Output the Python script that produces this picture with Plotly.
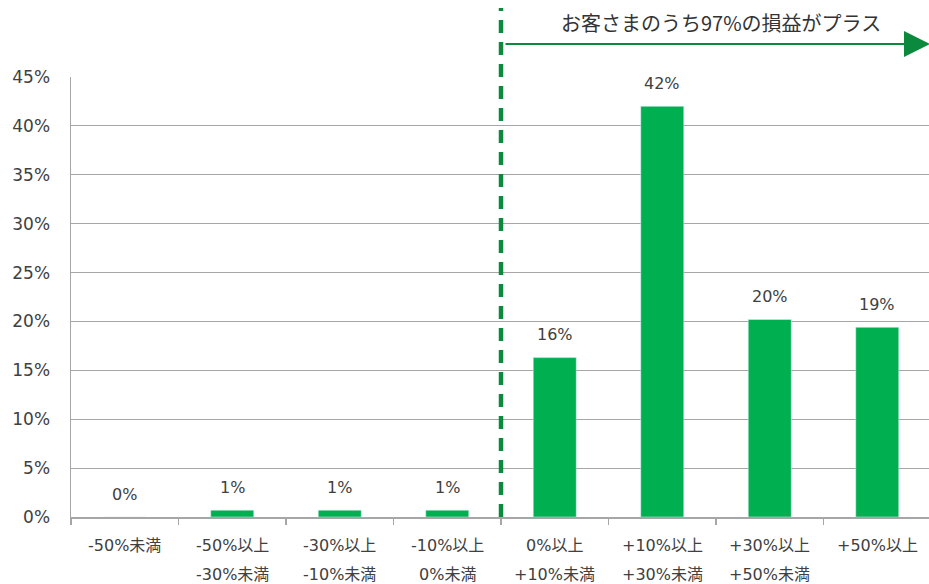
import plotly.graph_objects as go

categories_line1 = ["-50%未満", "-50%以上", "-30%以上", "-10%以上", "0%以上", "+10%以上", "+30%以上", "+50%以上"]
categories_line2 = ["", "-30%未満", "-10%未満", "0%未満", "+10%未満", "+30%未満", "+50%未満", ""]
values = [0.0, 0.7, 0.7, 0.7, 16.3, 42.0, 20.2, 19.4]
value_labels = ["0%", "1%", "1%", "1%", "16%", "42%", "20%", "19%"]
y_ticks = [0, 5, 10, 15, 20, 25, 30, 35, 40, 45]
y_ticktext = [f"{v}%" for v in y_ticks]
header_text = "お客さまのうち97%の損益がプラス"

x_idx = list(range(len(values)))

FONT = "DejaVu Sans, Verdana, Noto Sans CJK JP, sans-serif"
TXT = "#404040"
GRID = "#a6a6a6"
DGREEN = "#0b8a3d"

LEFT = 71
PLOT_W = 860

fig = go.Figure()
fig.add_trace(go.Bar(
    x=x_idx, y=values, marker_color="#00b050", width=0.4,
    hoverinfo="skip",
))

annotations = []
for i, (v, t) in enumerate(zip(values, value_labels)):
    annotations.append(dict(x=i, y=v, xref="x", yref="y", text=t, showarrow=False,
                            yanchor="middle", yshift=23,
                            font=dict(family=FONT, size=16, color=TXT)))
for i, (a, b) in enumerate(zip(categories_line1, categories_line2)):
    annotations.append(dict(x=i, y=0, xref="x", yref="paper", text=a, showarrow=False,
                            yanchor="middle", yshift=-28,
                            font=dict(family=FONT, size=16, color=TXT)))
    if b:
        annotations.append(dict(x=i, y=0, xref="x", yref="paper", text=b, showarrow=False,
                                yanchor="middle", yshift=-57,
                                font=dict(family=FONT, size=16, color=TXT)))

# arrow (tip runs slightly past the right edge, as in the reference)
arrow_y = (517 - 44) / 440
tip_x = 938 - LEFT
start_x = 504 - LEFT
annotations.append(dict(x=tip_x / PLOT_W, y=arrow_y, xref="paper", yref="paper",
                        ax=-(tip_x - start_x), ay=0, axref="pixel", ayref="pixel",
                        showarrow=True, arrowhead=2, arrowsize=2.6, arrowwidth=2,
                        arrowcolor=DGREEN, text="", standoff=0))
annotations.append(dict(x=5.55, y=arrow_y, xref="x", yref="paper", text=header_text,
                        showarrow=False, yanchor="bottom", yshift=5,
                        font=dict(family="Noto Sans CJK JP, sans-serif", size=20, color="#333333")))

fig.add_shape(type="line", x0=3.5, x1=3.5, xref="x", y0=0, y1=(517 - 8) / 440, yref="paper",
              line=dict(color=DGREEN, width=4.5, dash="13px,9px"))

fig.update_layout(
    width=LEFT + PLOT_W,
    height=584,
    margin=dict(l=LEFT, r=0, t=77, b=67, autoexpand=False),
    paper_bgcolor="white", plot_bgcolor="white",
    showlegend=False,
    annotations=annotations,
    xaxis=dict(range=[-0.5, 7.5], showticklabels=False, showgrid=False, zeroline=False,
               automargin=False,
               showline=True, linecolor=GRID, linewidth=1.5,
               tickmode="array", tickvals=[i + 0.5 for i in range(-1, 8)],
               ticks="outside", ticklen=6, tickcolor=GRID, tickwidth=1.5),
    yaxis=dict(range=[0, 45], tickvals=y_ticks, ticktext=y_ticktext, automargin=False,
               showgrid=True, gridcolor=GRID, gridwidth=1, zeroline=False,
               showline=True, linecolor=GRID, linewidth=1.5,
               ticks="", ticklabelstandoff=16,
               tickfont=dict(family=FONT, size=17, color=TXT)),
)

fig.write_html(
    "out.html",
    config={"displayModeBar": False, "staticPlot": True},
    post_script="document.body.style.margin='0';document.body.style.overflow='hidden';"
                "document.documentElement.style.overflow='hidden';",
)
